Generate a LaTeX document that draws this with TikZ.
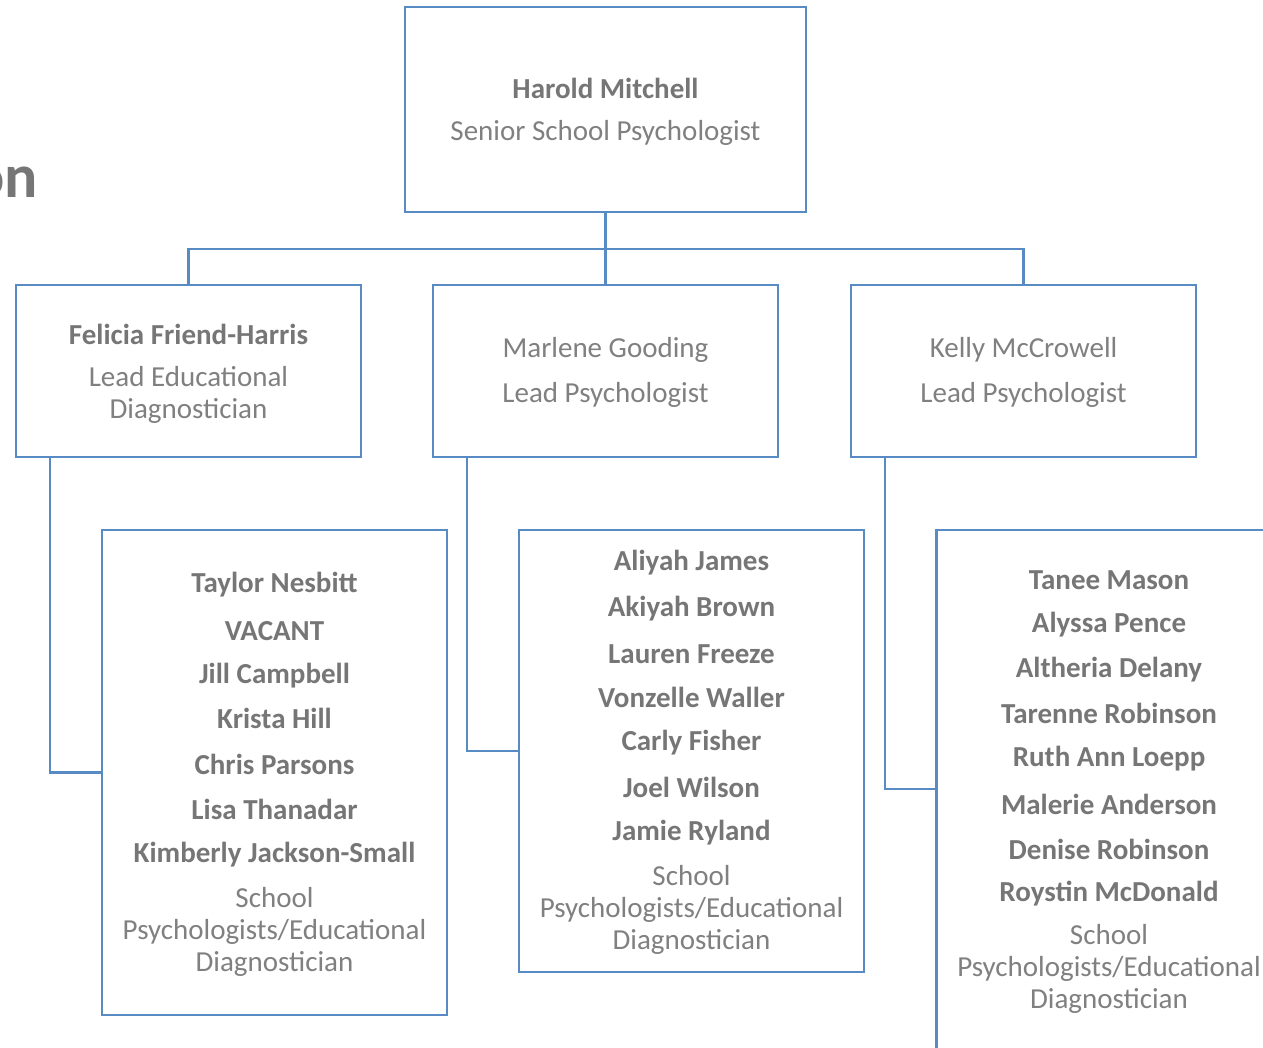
\documentclass[tikz,border=0pt]{standalone}
\usepackage{fontspec}
\setmainfont{Carlito}
\definecolor{lineblue}{RGB}{88,139,196}
\definecolor{boldgray}{RGB}{118,118,118}
\definecolor{reggray}{RGB}{128,128,128}
\begin{document}
\begin{tikzpicture}[x=1pt,y=-1pt,
  box/.style={draw=lineblue, line width=2.8pt, rectangle, inner sep=0pt, outer sep=0pt},
  conn/.style={draw=lineblue, line width=2.8pt},
  nm/.style={font=\fontsize{29}{34}\selectfont\bfseries, text=boldgray, inner sep=0pt, yshift=-2pt},
  rl/.style={font=\fontsize{29}{32}\selectfont, text=reggray, align=center, inner sep=0pt, yshift=-2pt}]
\useasboundingbox (0,0) rectangle (1263,1047);
\clip (0,0) rectangle (1263,1047);
\fill[white] (0,0) rectangle (1263,1047);

% title fragment
\node[anchor=base east, font=\fontsize{62}{70}\selectfont\bfseries, text=boldgray, inner sep=0pt] (title) at (38,197) {on};

% boxes
\node[box, minimum width=401pt, minimum height=205pt] (top) at (605.5,109.5) {};
\node[box, minimum width=345pt, minimum height=172pt] (A) at (188.5,371) {};
\node[box, minimum width=345pt, minimum height=172pt] (B) at (605.5,371) {};
\node[box, minimum width=345pt, minimum height=172pt] (C) at (1023.5,371) {};
\node[box, minimum width=345pt, minimum height=485pt] (D) at (274.5,772.5) {};
\node[box, minimum width=345pt, minimum height=442pt] (E) at (691.5,751) {};
\node[box, minimum width=345pt, minimum height=600pt] (F) at (1109,830) {};
\coordinate (Fin) at ([yshift=-259pt]F.north west);

% connectors
\coordinate (bus) at (605.5,249);
\draw[conn] (top.south) -- (B.north);
\draw[conn] (A.north) |- (bus) -| (C.north);
\draw[conn] ([xshift=34pt]A.south west) |- (D.west);
\draw[conn] ([xshift=34pt]B.south west) |- (E.west);
\draw[conn] ([xshift=34pt]C.south west) |- (Fin);

% top text
\node[nm] (t1) at (605.5,86) {Harold Mitchell};
\node[rl] (t2) at (605.5,131) {Senior School Psychologist};

% level 2
\node[nm] (a1) at (188.5,332) {Felicia Friend-Harris};
\node[rl] (a2) at (188.5,393) {Lead Educational\\Diagnostician};
\node[rl] (b1) at (605.5,348) {Marlene Gooding};
\node[rl] (b2) at (605.5,393) {Lead Psychologist};
\node[rl] (c1) at (1023.5,348) {Kelly McCrowell};
\node[rl] (c2) at (1023.5,393) {Lead Psychologist};

% level 3 D
\node[nm] (d1) at (274.5,583) {Taylor Nesbitt};
\node[nm] (d2) at (274.5,629) {VACANT};
\node[nm] (d3) at (274.5,674) {Jill Campbell};
\node[nm] (d4) at (274.5,716) {Krista Hill};
\node[nm] (d5) at (274.5,762) {Chris Parsons};
\node[nm] (d6) at (274.5,807) {Lisa Thanadar};
\node[nm] (d7) at (274.5,853) {Kimberly Jackson-Small};
\node[rl] (d8) at (274.5,930) {School\\Psychologists/Educational\\Diagnostician};

% level 3 E
\node[nm] (e1) at (691.5,561) {Aliyah James};
\node[nm] (e2) at (691.5,607) {Akiyah Brown};
\node[nm] (e3) at (691.5,652) {Lauren Freeze};
\node[nm] (e4) at (691.5,695) {Vonzelle Waller};
\node[nm] (e5) at (691.5,741) {Carly Fisher};
\node[nm] (e6) at (691.5,785) {Joel Wilson};
\node[nm] (e7) at (691.5,831) {Jamie Ryland};
\node[rl] (e8) at (691.5,908) {School\\Psychologists/Educational\\Diagnostician};

% level 3 F
\node[nm] (f1) at (1109,578) {Tanee Mason};
\node[nm] (f2) at (1109,623) {Alyssa Pence};
\node[nm] (f3) at (1109,668) {Altheria Delany};
\node[nm] (f4) at (1109,711) {Tarenne Robinson};
\node[nm] (f5) at (1109,757) {Ruth Ann Loepp};
\node[nm] (f6) at (1109,802) {Malerie Anderson};
\node[nm] (f7) at (1109,847) {Denise Robinson};
\node[nm] (f8) at (1109,892) {Roystin McDonald};
\node[rl] (f9) at (1109,967) {School\\Psychologists/Educational\\Diagnostician};
\end{tikzpicture}
\end{document}
